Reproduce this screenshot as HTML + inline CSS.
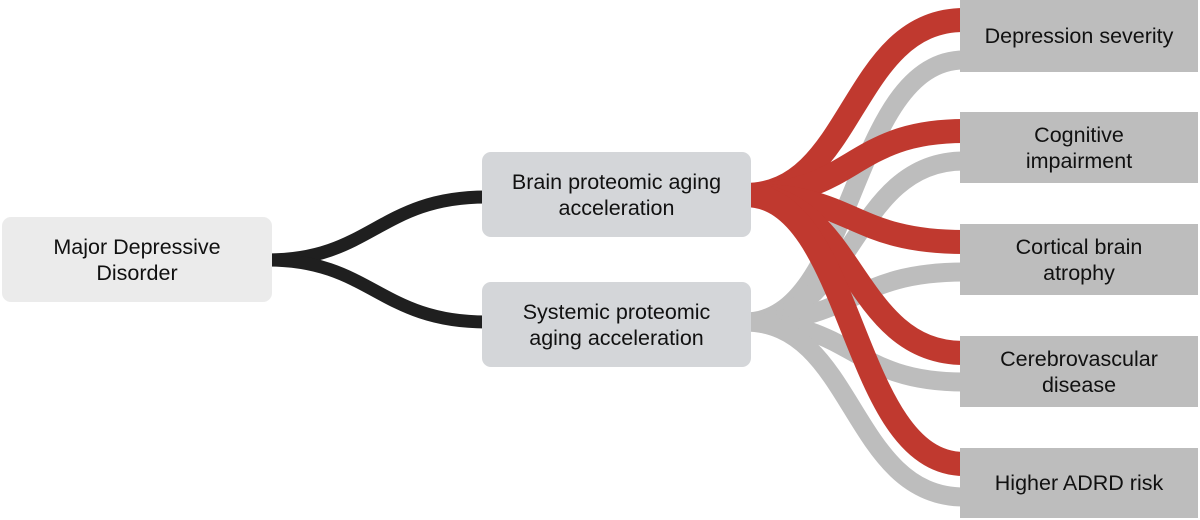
<!DOCTYPE html>
<html><head><meta charset="utf-8"><style>
html,body{margin:0;padding:0;background:#fff;}
body{width:1200px;height:520px;position:relative;overflow:hidden;font-family:"Liberation Sans",sans-serif;}
.b{position:absolute;display:flex;align-items:center;justify-content:center;text-align:center;font-size:21.5px;line-height:26px;color:#111;}
</style></head><body>
<svg width="1200" height="520" style="position:absolute;left:0;top:0" fill="none">
<g stroke="#1f1f1f" stroke-width="13">
<path d="M268,260 C370,260 380,197 486,197"/>
<path d="M268,260 C370,260 380,322 486,322"/>
</g>
<g stroke="#bdbdbd" stroke-width="19">
<path d="M745,322 C855,322 850,60 964,60"/>
<path d="M745,322 C855,322 850,161 964,161"/>
<path d="M745,322 C855,322 850,272 964,272"/>
<path d="M745,322 C855,322 850,382 964,382"/>
<path d="M745,322 C855,322 850,497 964,497"/>
</g>
<g stroke="#c0392f" stroke-width="24">
<path d="M745,195 C855,195 850,20 964,20"/>
<path d="M745,195 C855,195 850,131 964,131"/>
<path d="M745,195 C855,195 850,242 964,242"/>
<path d="M745,195 C855,195 850,353 964,353"/>
<path d="M745,195 C855,195 850,464 964,464"/>
</g>
</svg>
<div class="b" style="left:2px;top:217px;width:270px;height:85px;background:#ebebeb;border-radius:9px">Major Depressive<br>Disorder</div>
<div class="b" style="left:482px;top:152px;width:269px;height:85px;background:#d4d6d9;border-radius:9px">Brain proteomic aging<br>acceleration</div>
<div class="b" style="left:482px;top:282px;width:269px;height:85px;background:#d4d6d9;border-radius:9px">Systemic proteomic<br>aging acceleration</div>
<div class="b" style="left:960px;top:0px;width:238px;height:72px;background:#bdbdbd">Depression severity</div>
<div class="b" style="left:960px;top:112px;width:238px;height:71px;background:#bdbdbd">Cognitive<br>impairment</div>
<div class="b" style="left:960px;top:224px;width:238px;height:71px;background:#bdbdbd">Cortical brain<br>atrophy</div>
<div class="b" style="left:960px;top:336px;width:238px;height:71px;background:#bdbdbd">Cerebrovascular<br>disease</div>
<div class="b" style="left:960px;top:448px;width:238px;height:70px;background:#bdbdbd">Higher ADRD risk</div>
</body></html>
